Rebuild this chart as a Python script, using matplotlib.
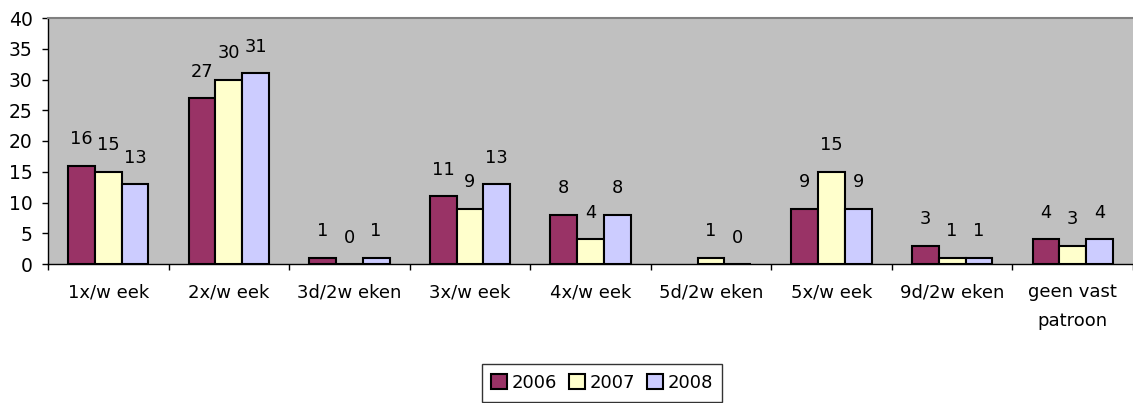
import numpy as np
import matplotlib
matplotlib.use('Agg')
import matplotlib.pyplot as plt

categories = ['1x/w eek', '2x/w eek', '3d/2w eken', '3x/w eek', '4x/w eek',
              '5d/2w eken', '5x/w eek', '9d/2w eken', 'geen vast\npatroon']
years = ['2006', '2007', '2008']
v2006 = [16, 27, 1, 11, 8, np.nan, 9, 3, 4]
v2007 = [15, 30, 0, 9, 4, 1, 15, 1, 3]
v2008 = [13, 31, 1, 13, 8, 0, 9, 1, 4]
colors = ['#993366', '#FFFFCC', '#CCCCFF']

plt.rcParams['font.family'] = ['DejaVu Sans']
plt.rcParams['font.size'] = 12

fig = plt.figure(figsize=(11.33, 4.03), dpi=100)
ax = fig.add_axes([48/1133, 139/403, 1 - 48/1133, 246/403])
ax.set_facecolor('#C0C0C0')

x = np.arange(len(categories))
w = 0.222
for k, (vals, c, lab) in enumerate(zip([v2006, v2007, v2008], colors, years)):
    xs = x + (k - 1) * w
    ax.bar(xs, vals, w, color=c, edgecolor='black', linewidth=1.5, label=lab)
    for xi, v in zip(xs, vals):
        if np.isnan(v):
            continue
        ax.annotate(str(int(v)), (xi, v), xytext=(0, 19), textcoords='offset points',
                    ha='center', va='center', fontsize=12.8)

ax.set_ylim(0, 40)
ax.set_xlim(-0.5, (1133 - 48) / 122 - 0.5)
ax.set_yticks(range(0, 41, 5))
ax.set_xticks(x)
ax.set_xticklabels(categories, linespacing=1.75)
ax.set_xticks(np.arange(-0.5, len(categories), 1), minor=True)
ax.tick_params(axis='x', which='major', length=0, pad=14, labelsize=13)
ax.tick_params(axis='x', which='minor', length=4, width=1, direction='out')
ax.tick_params(axis='y', length=4, width=1, pad=7, labelsize=13.5)

ax.spines['left'].set_linewidth(1)
ax.spines['bottom'].set_linewidth(1)
ax.spines['top'].set_color('#808080')
ax.spines['top'].set_linewidth(1.5)
ax.spines['right'].set_visible(False)

leg = fig.legend(loc='upper center', bbox_to_anchor=(602/1133, 1 - 364/403), ncol=3,
                 frameon=True, fancybox=False, edgecolor='black', borderpad=0.55,
                 borderaxespad=0, handlelength=0.85, handleheight=0.85, handletextpad=0.25,
                 columnspacing=0.7, fontsize=13)
leg.get_frame().set_linewidth(1)

fig.savefig('out.png', dpi=100)
